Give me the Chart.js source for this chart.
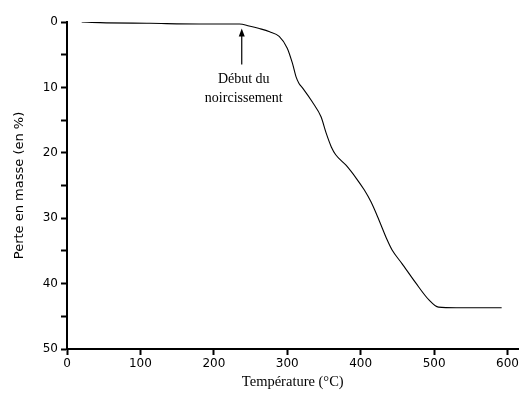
<!DOCTYPE html>
<html>
<head>
<meta charset="utf-8">
<script src="https://cdn.jsdelivr.net/npm/chart.js@4"></script>
<style>
  html, body { margin: 0; padding: 0; background: #fff; }
  #wrap { width: 521px; height: 403px; }
</style>
</head>
<body>
<div id="wrap"><canvas id="chart"></canvas></div>
<script>
// temperature (°C) and mass loss (%)
const temperature = [20, 45, 113, 180, 235, 248, 262, 276, 289, 300, 307, 312, 316, 321, 334, 346, 353, 360, 366, 380, 394, 405, 414, 425, 436, 443, 456, 475, 493, 506, 530, 560, 592];
const massLoss    = [0.0, 0.1, 0.2, 0.3, 0.3, 0.6, 1.0, 1.5, 2.2, 4.0, 6.3, 8.4, 9.4, 10.1, 12.2, 14.5, 17.0, 19.1, 20.3, 21.9, 23.9, 25.7, 27.5, 30.3, 33.3, 34.9, 36.9, 39.9, 42.5, 43.6, 43.7, 43.7, 43.7];

const xTicks = [0, 100, 200, 300, 400, 500, 600];
const yTicks = [0, 10, 20, 30, 40, 50];

// annotation: arrow pointing to the start of blackening
const noteX = 238;
const noteArrowFrom = 6.5;
const noteArrowTo = 1.0;
const noteLines = ["Début du", "noircissement"];

const points = temperature.map((t, i) => ({ x: t, y: massLoss[i] }));

const annotationPlugin = {
  id: "note",
  afterDatasetsDraw(chart) {
    const { ctx, scales } = chart;
    const x = scales.x.getPixelForValue(noteX);
    const y0 = scales.y.getPixelForValue(noteArrowFrom);
    const y1 = scales.y.getPixelForValue(noteArrowTo);
    ctx.save();
    ctx.strokeStyle = "#000";
    ctx.fillStyle = "#000";
    ctx.lineWidth = 1.2;
    ctx.beginPath();
    ctx.moveTo(x, y0);
    ctx.lineTo(x, y1 + 4);
    ctx.stroke();
    ctx.beginPath();
    ctx.moveTo(x, y1);
    ctx.lineTo(x - 3, y1 + 8);
    ctx.lineTo(x + 3, y1 + 8);
    ctx.closePath();
    ctx.fill();
    ctx.font = "14px 'Liberation Serif', serif";
    ctx.textAlign = "center";
    ctx.textBaseline = "middle";
    noteLines.forEach((line, i) => {
      ctx.fillText(line, x + 2, y0 + 15 + i * 19);
    });
    ctx.restore();
  },
};

new Chart(document.getElementById("chart"), {
  type: "line",
  data: {
    datasets: [
      {
        data: points,
        borderColor: "#000",
        borderWidth: 1.1,
        pointRadius: 0,
        fill: false,
        cubicInterpolationMode: "monotone",
      },
    ],
  },
  options: {
    responsive: true,
    maintainAspectRatio: false,
    animation: false,
    layout: { padding: { left: 0, top: 22, right: 1, bottom: 0 } },
    plugins: { legend: { display: false }, tooltip: { enabled: false } },
    scales: {
      x: {
        type: "linear",
        min: 0,
        max: 615,
        afterBuildTicks: (scale) => {
          scale.ticks = xTicks.map((v) => ({ value: v }));
        },
        afterFit: (scale) => {
          scale.height = 54;
        },
        grid: { drawOnChartArea: false, tickLength: 6, tickWidth: 2, tickColor: "#000" },
        border: { color: "#000", width: 2 },
        ticks: {
          color: "#000",
          padding: 2,
          maxRotation: 0,
          font: { family: "'DejaVu Sans', sans-serif", size: 12 },
        },
        title: {
          display: true,
          text: "Température (°C)",
          color: "#000",
          padding: { top: 0, bottom: 12 },
          font: { family: "'Liberation Serif', serif", size: 14.5 },
        },
      },
      y: {
        type: "linear",
        min: 0,
        max: 50,
        reverse: true,
        afterBuildTicks: (scale) => {
          const ticks = [];
          for (let v = 0; v <= 50; v += 5) ticks.push({ value: v });
          scale.ticks = ticks;
        },
        afterFit: (scale) => {
          scale.width = 67;
        },
        grid: { drawOnChartArea: false, tickLength: 6, tickWidth: 2, tickColor: "#000" },
        border: { color: "#000", width: 2 },
        ticks: {
          color: "#000",
          padding: 3,
          font: { family: "'DejaVu Sans', sans-serif", size: 12 },
          callback: (v) => (yTicks.includes(v) ? String(v) : ""),
        },
        title: {
          display: true,
          text: "Perte en masse (en %)",
          color: "#000",
          padding: { top: 12, bottom: 0 },
          font: { family: "'DejaVu Sans', sans-serif", size: 13 },
        },
      },
    },
  },
  plugins: [annotationPlugin],
});
</script>
</body>
</html>
